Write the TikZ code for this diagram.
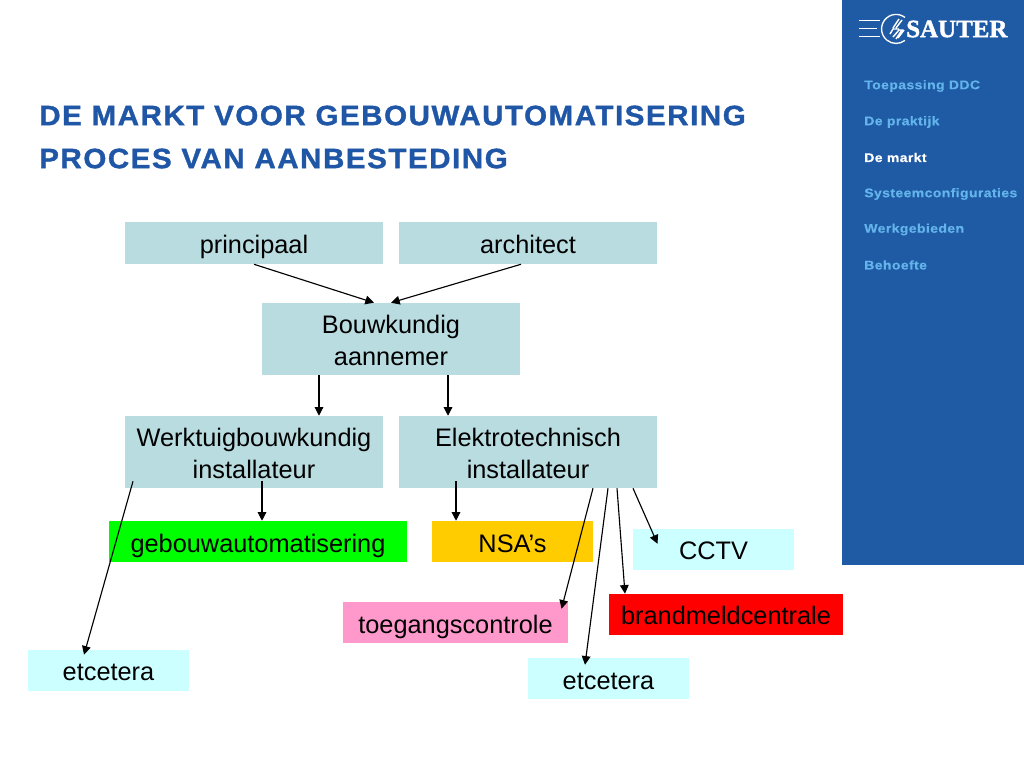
\documentclass[tikz,border=0pt]{standalone}
\usepackage{fontspec}
\setmainfont{Liberation Sans}
\newfontfamily\logofont{Liberation Serif}[FakeBold=1.6]
\newfontfamily\navfont{Liberation Sans}[FakeStretch=1.12,LetterSpace=3,FakeBold=0.4]
\newfontfamily\titlefont{Liberation Sans}[FakeStretch=1.055,LetterSpace=5.5,FakeBold=1.2]
\definecolor{sidebar}{HTML}{1F5AA5}
\definecolor{navblue}{HTML}{62B4EA}
\definecolor{titleblue}{HTML}{1F56A6}
\definecolor{boxblue}{HTML}{B9DCE0}
\definecolor{paleblue}{HTML}{CCFFFF}
\definecolor{nsaorange}{HTML}{FFCC00}
\definecolor{pinkbox}{HTML}{FF99CC}
\newcommand{\pxu}{pt*0.75}
\usetikzlibrary{arrows.meta}
\tikzset{
  box/.style={inner sep=0pt,align=center,font=\fontsize{19}{23.5}\selectfont,text=black},
  oneline/.style={box,text height=17.5pt,text depth=2.5pt},
  lowered/.style={text height=19pt},
  wide/.style={oneline,fill=boxblue,minimum width=258\pxu,minimum height=42\pxu},
  tall/.style={box,fill=boxblue,minimum width=258\pxu,minimum height=72\pxu},
  leaf/.style={oneline,fill=paleblue,minimum width=161\pxu,minimum height=41\pxu},
  arrow/.style={draw=black,line width=0.85pt,-{Triangle[length=6.5pt,width=6.5pt]}},
  nav/.style={anchor=west,inner sep=0pt,font=\navfont\bfseries\fontsize{9.4}{11}\selectfont,text=navblue},
  heading/.style={anchor=west,inner sep=0pt,font=\titlefont\bfseries\fontsize{21}{25}\selectfont,text=titleblue},
}
\newcommand{\lineup}{\rule{0pt}{16pt}}
\begin{document}
\begin{tikzpicture}[x=0.75pt,y=-0.75pt]
\useasboundingbox (0,0) rectangle (1024,768);
\fill[white] (0,0) rectangle (1024,768);
\fill[sidebar] (842,0) rectangle (1024,565);
% logo
\draw[white,line width=0.9pt] (859,20.7) -- (880,20.7) (859,28.5) -- (877,28.5) (859,36.7) -- (880,36.7);
\draw[white,line width=1pt] (905,17.5) arc[start angle=-52,end angle=-308,radius=14.5];
\draw[white,line width=1.1pt] (893,28) -- (899,19) (896,28) -- (902,20) (890,34) -- (893,29) -- (899,29)
  (893,37) -- (899,30) -- (902,30) -- (896,39) (898,38) -- (904,30);
\node[anchor=west,inner sep=0pt,text=white,font=\logofont\bfseries\fontsize{18.7}{22}\selectfont] (logo) at (906,29) {SAUTER};
% navigation
\node[nav] (n1) at (864,86) {Toepassing DDC};
\node[nav] (n2) at (864,122) {De praktijk};
\node[nav,text=white] (n3) at (864,157.5) {De markt};
\node[nav] (n4) at (864,194) {Systeemconfiguraties};
\node[nav] (n5) at (864,229.5) {Werkgebieden};
\node[nav] (n6) at (864,265) {Behoefte};
% title
\node[heading] (t1) at (39,115.5) {DE MARKT VOOR GEBOUWAUTOMATISERING};
\node[heading] (t2) at (39,158.5) {PROCES VAN AANBESTEDING};
% boxes
\node[wide] (prin) at (254,243) {principaal};
\node[wide] (arch) at (528,243) {architect};
\node[tall] (bouw) at (391,339) {\lineup Bouwkundig\\aannemer};
\node[tall] (werk) at (254,452) {\lineup Werktuigbouwkundig\\installateur};
\node[tall] (elek) at (528,452) {\lineup Elektrotechnisch\\installateur};
\node[oneline,lowered,fill=green,minimum width=298\pxu,minimum height=41\pxu] (gebo) at (258,541.5) {gebouwautomatisering};
\node[oneline,lowered,fill=nsaorange,minimum width=161\pxu,minimum height=41\pxu] (nsa) at (512.5,541.5) {NSA’s};
\node[leaf] (cctv) at (713.5,549.5) {CCTV};
\node[oneline,lowered,fill=pinkbox,minimum width=225\pxu,minimum height=41\pxu] (toeg) at (455.5,622.5) {toegangscontrole};
\node[oneline,fill=red,minimum width=234\pxu,minimum height=41\pxu] (bran) at (726,614.5) {brandmeldcentrale};
\node[leaf] (etc1) at (108.5,670.5) {etcetera};
\node[leaf,lowered] (etc2) at (608.5,678.5) {etcetera};
% connectors
\draw[arrow] (prin.south) -- ([shift={(-17,0)}]bouw.north);
\draw[arrow] ([shift={(-7,0)}]arch.south) -- (bouw.north);
\draw[arrow] ([shift={(-72,0)}]bouw.south) -- ([shift={(65,0)}]werk.north);
\draw[arrow] ([shift={(57,0)}]bouw.south) -- ([shift={(-80,0)}]elek.north);
\draw[arrow] ([shift={(8,-7)}]werk.south) -- ([shift={(4,0)}]gebo.north);
\draw[arrow] ([shift={(-121,-7)}]werk.south) -- ([shift={(-24.5,5)}]etc1.north);
\draw[arrow] ([shift={(-72,-7)}]elek.south) -- ([shift={(-56.5,0)}]nsa.north);
\draw[arrow] ([shift={(65,0)}]elek.south) -- ([shift={(106,7)}]toeg.north);
\draw[arrow] ([shift={(80,0)}]elek.south) -- ([shift={(-23.5,7)}]etc2.north);
\draw[arrow] ([shift={(89,0)}]elek.south) -- ([shift={(-101,0)}]bran.north);
\draw[arrow] ([shift={(105,0)}]elek.south) -- ([shift={(-56,15)}]cctv.north);
\end{tikzpicture}
\end{document}
